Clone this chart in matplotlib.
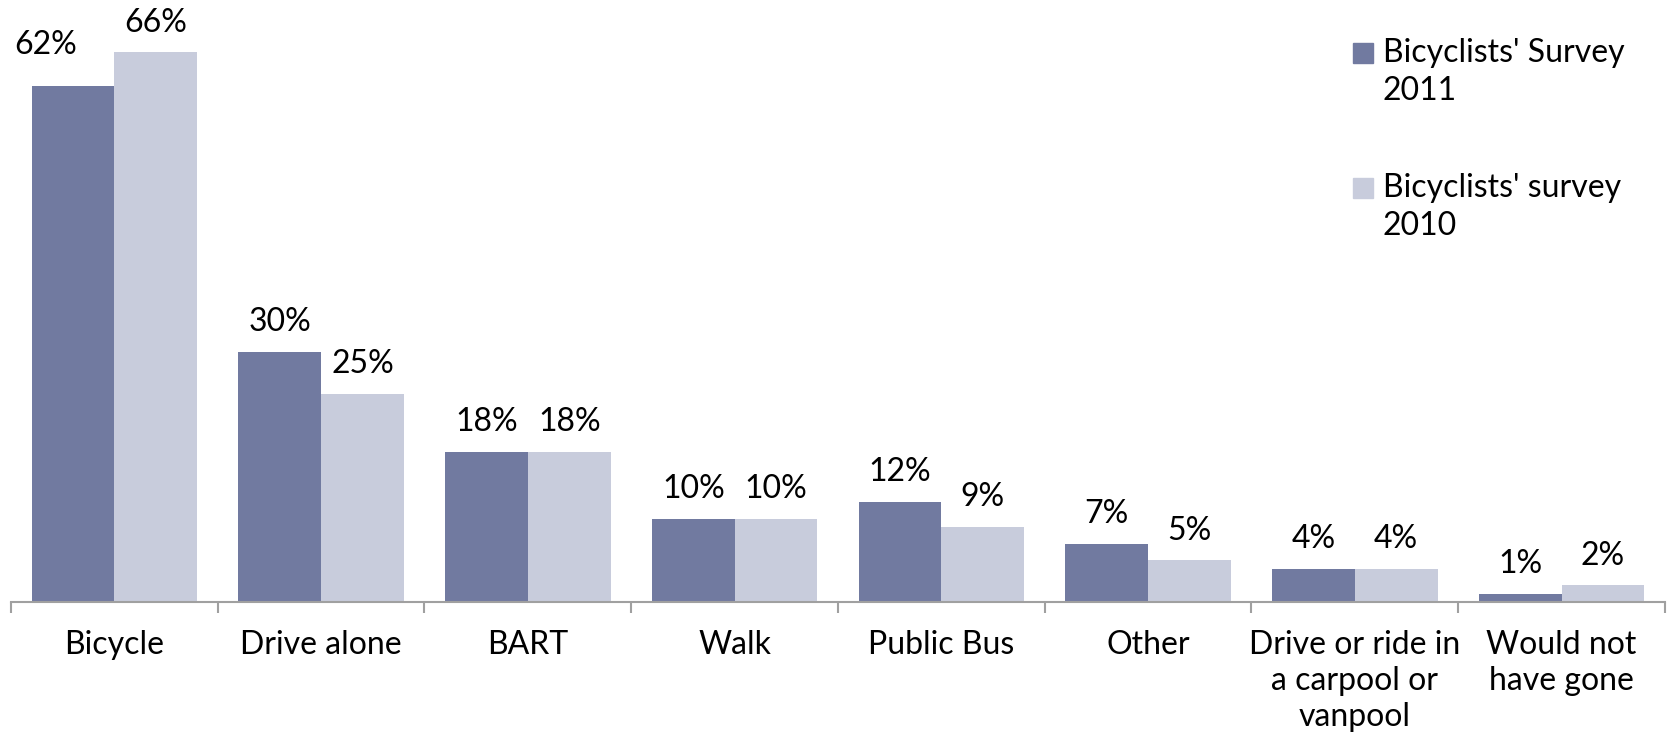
import matplotlib.pyplot as plt
from matplotlib.patches import Rectangle
import numpy as np

plt.rcParams["font.family"] = ["Lato", "DejaVu Sans"]

categories = [
    "Bicycle",
    "Drive alone",
    "BART",
    "Walk",
    "Public Bus",
    "Other",
    "Drive or ride in\na carpool or\nvanpool",
    "Would not\nhave gone",
]
survey_2011 = [62, 30, 18, 10, 12, 7, 4, 1]
survey_2010 = [66, 25, 18, 10, 9, 5, 4, 2]
series_labels = ["Bicyclists' Survey\n2011", "Bicyclists' survey\n2010"]

DARK = "#717aa0"
LIGHT = "#c8ccdc"
AXIS = "#a0a0a0"
FS = 23

W, H = 1670, 732
fig = plt.figure(figsize=(W / 100, H / 100), dpi=100)
ax = fig.add_axes([11 / W, 1 - 602 / H, (1665 - 11) / W, 602 / H])

x = np.arange(len(categories))
bw = 0.4
b1 = ax.bar(x - bw / 2, survey_2011, bw, color=DARK, zorder=2)
b2 = ax.bar(x + bw / 2, survey_2010, bw, color=LIGHT, zorder=2)

for i, (bar, v) in enumerate(zip(b1, survey_2011)):
    # first label is pushed up-left to avoid overlap, like the original
    dx, dy = (-20, 23) if i == 0 else (0, 15)
    ax.annotate(f"{v}%", (bar.get_x() + bar.get_width() / 2, v),
                xytext=(dx, dy), textcoords="offset points",
                ha="center", va="baseline", fontsize=FS)
for bar, v in zip(b2, survey_2010):
    ax.annotate(f"{v}%", (bar.get_x() + bar.get_width() / 2, v),
                xytext=(0, 15), textcoords="offset points",
                ha="center", va="baseline", fontsize=FS)

ax.set_xlim(-0.5, len(categories) - 0.5)
ax.set_ylim(0, 72.3)
ax.set_yticks([])
for s in ["top", "right", "left"]:
    ax.spines[s].set_visible(False)
ax.spines["bottom"].set_color(AXIS)
ax.spines["bottom"].set_linewidth(1.5)

ax.set_xticks(np.arange(len(categories) + 1) - 0.5)
ax.set_xticklabels([])
ax.tick_params(axis="x", which="major", length=8, width=1.5, color=AXIS)
ax.set_xticks(x, minor=True)
ax.set_xticklabels(categories, minor=True, fontsize=FS, linespacing=1.25, va="top")
ax.tick_params(axis="x", which="minor", length=0, pad=20)

# legend drawn by hand to mimic the two-line entries
for y0, col, lab in [(43, DARK, series_labels[0]), (178, LIGHT, series_labels[1])]:
    fig.add_artist(Rectangle((1353 / W, 1 - (y0 + 20) / H), 20 / W, 20 / H,
                             transform=fig.transFigure, color=col))
    fig.text(1383 / W, 1 - (y0 - 5) / H, lab, fontsize=FS, va="top",
             ha="left", linespacing=1.35)

fig.savefig("out.png", dpi=100)
